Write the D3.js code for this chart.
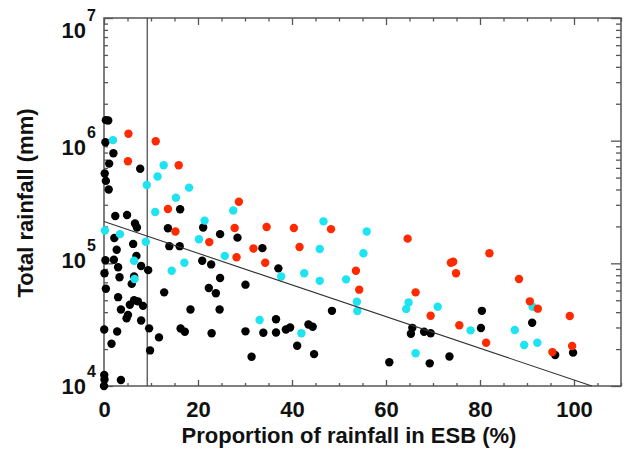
<!DOCTYPE html>
<html>
<head>
<meta charset="utf-8">
<script src="https://cdn.jsdelivr.net/npm/d3@7"></script>
<style>
  body { margin: 0; background: #fff; }
  text { font-family: Arial, "Liberation Sans", sans-serif; font-weight: bold; fill: #111; }
</style>
</head>
<body>
<div id="chart"></div>
<script>
// ESB proportion (%) vs total rainfall (mm), three groups
var blackX = [0.4, 0.9, 0.3, 2.0, 1.1, 0.15, 0.4, 1.0, 7.7, 2.4, 4.9, 6.6, 7.0, 16.2, 13.6, 21.1, 24.7, 2.2, 6.2, 2.7,
  13.9, 16.1, 28.4, 33.7, 0.3, 2.1, 6.9, 3.0, 0.1, 6.4, 7.9, 9.4, 3.3, 5.9, 0.4, 3.0, 6.4, 7.2, 8.3, 5.5,
  3.6, 5.1, 4.8, 7.9, 9.6, 0.05, 2.8, 11.7, 1.6, 9.8, 12.8, 18.4, 16.3, 17.2, 22.9, 20.9, 22.8, 24.7, 22.3, 23.8,
  24.6, 0.05, 0.1, 3.6, 0, 30.1, 37.1, 36.6, 30.1, 33.9, 36.6, 38.7, 39.6, 43.5, 44.4, 41.1, 44.7, 31.4, 48.5, 65.6,
  65.3, 68.1, 69.5, 60.7, 69.3, 73.5, 80.4, 80.2, 91.1, 96.0, 99.8];
var blackY = [1.47e6, 1.46e6, 9.7e5, 7.9e5, 6.5e5, 5.4e5, 4.7e5, 4.0e5, 5.9e5, 2.43e5, 2.48e5, 2.11e5, 1.96e5, 2.76e5, 1.93e5, 1.96e5, 1.73e5, 1.61e5, 1.44e5, 1.29e5,
  1.38e5, 1.38e5, 1.62e5, 1.33e5, 1.06e5, 1.07e5, 1.15e5, 9.3e4, 8.3e4, 7.8e4, 9.5e4, 8.8e4, 7.7e4, 6.8e4, 6.2e4, 5.3e4, 5.0e4, 4.9e4, 4.5e4, 4.6e4,
  4.2e4, 3.8e4, 3.56e4, 3.42e4, 2.95e4, 2.89e4, 2.78e4, 2.49e4, 2.21e4, 1.95e4, 5.8e4, 4.2e4, 2.94e4, 2.77e4, 2.69e4, 1.05e5, 9.8e4, 7.6e4, 6.3e4, 5.7e4,
  4.2e4, 1.23e4, 1.13e4, 1.12e4, 1.0e4, 6.7e4, 9.1e4, 3.5e4, 2.79e4, 2.72e4, 2.73e4, 2.89e4, 3.0e4, 3.17e4, 3.04e4, 2.13e4, 1.82e4, 1.73e4, 4.1e4, 2.98e4,
  2.67e4, 2.77e4, 2.69e4, 1.56e4, 1.53e4, 1.74e4, 4.1e4, 2.97e4, 3.28e4, 1.79e4, 1.87e4];

var cyanX = [1.9, 12.7, 11.4, 9.1, 18.1, 15.3, 10.9, 21.4, 0.2, 3.4, 8.9, 20.2, 27.5, 46.7, 45.9, 55.9, 55.2, 6.4, 17.1, 14.4,
  6.5, 25.7, 33.1, 37.7, 42.6, 45.9, 51.5, 42.0, 53.8, 53.9, 64.8, 64.3, 71.0, 66.3, 78.0, 91.2, 87.4, 89.4, 92.2];
var cyanY = [1.01e6, 6.3e5, 5.1e5, 4.35e5, 4.14e5, 3.43e5, 2.62e5, 2.23e5, 1.85e5, 1.73e5, 1.5e5, 1.57e5, 2.7e5, 2.2e5, 1.31e5, 1.82e5, 1.21e5, 1.05e5, 1.01e5, 8.7e4,
  7.45e4, 1.15e5, 3.45e4, 7.8e4, 8.3e4, 7.2e4, 7.4e4, 2.69e4, 4.87e4, 4.09e4, 4.8e4, 4.25e4, 4.43e4, 1.85e4, 2.84e4, 4.43e4, 2.86e4, 2.16e4, 2.25e4];

var redX = [5.2, 11.0, 5.1, 15.9, 13.6, 28.7, 15.2, 22.4, 27.8, 34.6, 40.4, 48.3, 31.8, 41.6, 28.2, 34.3, 64.6, 53.6, 54.3, 66.3,
  69.5, 73.8, 74.3, 74.9, 75.6, 82.0, 81.3, 88.3, 90.6, 92.3, 99.1, 95.4, 99.6];
var redY = [1.14e6, 9.9e5, 6.8e5, 6.3e5, 2.77e5, 3.18e5, 1.82e5, 1.49e5, 1.94e5, 1.98e5, 1.94e5, 1.9e5, 1.32e5, 1.36e5, 1.12e5, 1.01e5, 1.59e5, 8.7e4, 6.1e4, 5.8e4,
  3.74e4, 1.01e5, 1.03e5, 8.3e4, 3.13e4, 1.21e5, 2.25e4, 7.45e4, 4.9e4, 4.27e4, 3.72e4, 1.89e4, 2.12e4];

// fitted line end points and the threshold line
var trendX = [0, 103.8];
var trendY = [2.19e5, 1.0e4];
var cutoffX = 9.2;

var xTicks = [0, 20, 40, 60, 80, 100];
var yTicks = [1e4, 1e5, 1e6, 1e7];
var yExp = ["4", "5", "6", "7"];

var W = 627, H = 457;
var margin = {top: 18, right: 6, bottom: 71, left: 104};
var width = W - margin.left - margin.right;
var height = H - margin.top - margin.bottom;

var svg = d3.select("#chart").append("svg")
    .attr("width", W)
    .attr("height", H);

var g = svg.append("g")
    .attr("transform", "translate(" + margin.left + "," + margin.top + ")");

var x = d3.scaleLinear().domain([0, 110]).range([0, width]);
var y = d3.scaleLog().domain([1e4, 1e7]).range([height, 0]);

var minorX = d3.range(0, 111, 5).filter(function(v) { return v % 20 !== 0; });
var minorY = [];
[1e4, 1e5, 1e6].forEach(function(d) {
  for (var k = 2; k <= 9; k++) minorY.push(d * k);
});

var axisColor = "#555";

function styleAxis(sel) {
  sel.select(".domain").remove();
  sel.selectAll("line").attr("stroke", axisColor).attr("stroke-width", 1.3);
}

// bottom and top ticks (pointing inward)
g.append("g").attr("transform", "translate(0," + height + ")")
  .call(d3.axisBottom(x).tickValues(minorX).tickSize(-3).tickFormat(""))
  .call(styleAxis);
g.append("g").attr("transform", "translate(0," + height + ")")
  .call(d3.axisBottom(x).tickValues(xTicks).tickSize(-6).tickPadding(15).tickFormat(d3.format("d")))
  .call(styleAxis)
  .call(function(s) {
    s.selectAll("text").style("font-size", "22px").style("font-family", "Arial, 'Liberation Sans', sans-serif")
      .style("font-weight", "bold").attr("fill", "#111");
  });
g.append("g")
  .call(d3.axisTop(x).tickValues(minorX).tickSize(-3.5).tickFormat(""))
  .call(styleAxis);
g.append("g")
  .call(d3.axisTop(x).tickValues(xTicks).tickSize(-7).tickFormat(""))
  .call(styleAxis);

// left and right ticks
g.append("g")
  .call(d3.axisLeft(y).tickValues(minorY).tickSize(-4).tickFormat(""))
  .call(styleAxis);
g.append("g")
  .call(d3.axisLeft(y).tickValues(yTicks).tickSize(-9).tickFormat(""))
  .call(styleAxis);
g.append("g").attr("transform", "translate(" + width + ",0)")
  .call(d3.axisRight(y).tickValues(minorY).tickSize(-5).tickFormat(""))
  .call(styleAxis);
g.append("g").attr("transform", "translate(" + width + ",0)")
  .call(d3.axisRight(y).tickValues(yTicks).tickSize(-10).tickFormat(""))
  .call(styleAxis);

// y tick labels: 10 with exponent
var labelShift = [0, -3, 6, 12];
g.selectAll(".ylab").data(yTicks).enter().append("text")
    .attr("class", "ylab")
    .attr("x", -18)
    .attr("y", function(d, i) { return y(d) + labelShift[i]; })
    .attr("dy", "0.36em")
    .attr("text-anchor", "end")
    .style("font-size", "22px")
    .text("10");
g.selectAll(".yexp").data(yTicks).enter().append("text")
    .attr("class", "yexp")
    .attr("x", -17)
    .attr("y", function(d, i) { return y(d) + labelShift[i] - 9; })
    .style("font-size", "16px")
    .text(function(d, i) { return yExp[i]; });

// frame
g.append("rect")
  .attr("width", width).attr("height", height)
  .attr("fill", "none").attr("stroke", axisColor).attr("stroke-width", 1.5);

// threshold line
g.append("line")
  .attr("x1", x(cutoffX)).attr("x2", x(cutoffX))
  .attr("y1", 0).attr("y2", height)
  .attr("stroke", "#444").attr("stroke-width", 1.2);

// points
function drawDots(xs, ys, color) {
  g.append("g").selectAll("circle")
    .data(d3.zip(xs, ys))
    .enter().append("circle")
    .attr("cx", function(d) { return x(d[0]); })
    .attr("cy", function(d) { return y(d[1]); })
    .attr("r", 4.2)
    .attr("fill", color);
}
drawDots(blackX, blackY, "#000");
drawDots(cyanX, cyanY, "#1ee3f0");
drawDots(redX, redY, "#ff2a00");

// fitted line
var line = d3.line()
  .x(function(d) { return x(d[0]); })
  .y(function(d) { return y(d[1]); });
g.append("path")
  .datum(d3.zip(trendX, trendY))
  .attr("d", line)
  .attr("fill", "none")
  .attr("stroke", "#333")
  .attr("stroke-width", 1.1);

// axis titles
svg.append("text")
  .attr("x", 349).attr("y", 443)
  .attr("text-anchor", "middle")
  .style("font-size", "22px")
  .text("Proportion of rainfall in ESB (%)");

svg.append("text")
  .attr("transform", "translate(33,203) rotate(-90)")
  .attr("text-anchor", "middle")
  .style("font-size", "22px")
  .text("Total rainfall (mm)");
</script>
</body>
</html>
